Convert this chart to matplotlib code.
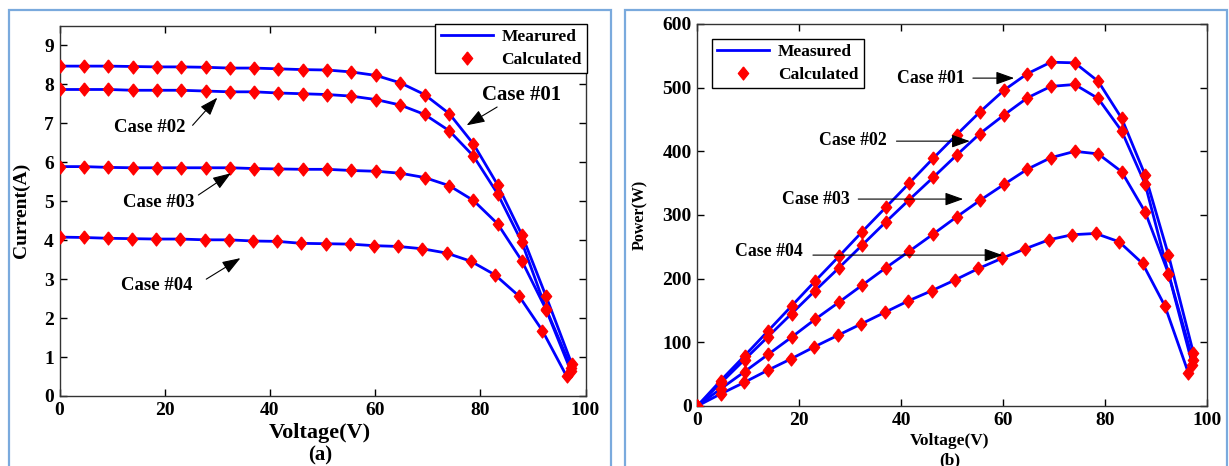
import matplotlib
matplotlib.use("Agg")
import matplotlib.pyplot as plt
from matplotlib.patches import Rectangle

plt.rcParams['font.family'] = ['Liberation Serif', 'DejaVu Serif']
plt.rcParams['font.weight'] = 'bold'

# ---------------- data ----------------
v_common = [0, 4.6, 9.3, 13.9, 18.5, 23.1, 27.8, 32.4, 37.0, 41.6, 46.3,
            50.9, 55.5, 60.2, 64.8, 69.4, 74.1, 78.7, 83.3, 87.9, 92.5]
v_end = [97.4, 97.3, 97.2, 96.4]
v_case4 = [0, 4.6, 9.2, 13.8, 18.4, 23.0, 27.6, 32.2, 36.8, 41.4, 46.0,
           50.6, 55.2, 59.8, 64.4, 69.0, 73.6, 78.2, 82.8, 87.4, 91.8]

i_case1 = [8.47, 8.47, 8.47, 8.46, 8.45, 8.45, 8.44, 8.42, 8.42, 8.40, 8.38,
           8.37, 8.32, 8.23, 8.04, 7.74, 7.25, 6.47, 5.42, 4.14, 2.56, 0.82]
i_case2 = [7.87, 7.87, 7.87, 7.85, 7.85, 7.85, 7.83, 7.81, 7.81, 7.78, 7.76,
           7.74, 7.70, 7.61, 7.47, 7.23, 6.81, 6.16, 5.19, 3.95, 2.24, 0.72]
i_case3 = [5.89, 5.89, 5.87, 5.86, 5.86, 5.86, 5.86, 5.86, 5.84, 5.83, 5.82,
           5.82, 5.79, 5.77, 5.72, 5.61, 5.40, 5.02, 4.42, 3.47, 2.22, 0.65]
i_case4 = [4.08, 4.07, 4.05, 4.04, 4.03, 4.03, 4.01, 4.01, 3.98, 3.97, 3.92,
           3.91, 3.90, 3.86, 3.84, 3.78, 3.67, 3.46, 3.11, 2.56, 1.68, 0.51]

p_case1 = [0, 40, 79, 118, 157, 196, 235, 274, 312, 350, 389,
           426, 462, 496, 522, 540, 539, 510, 452, 363, 237, 83]
p_case2 = [0, 36, 73, 109, 145, 181, 217, 253, 289, 324, 359,
           394, 428, 457, 484, 502, 505, 483, 432, 349, 208, 72]
p_case3 = [0, 27, 54, 81, 108, 136, 163, 190, 217, 243, 270,
           297, 323, 348, 372, 390, 400, 396, 368, 305, 208, 65]
p_case4 = [0, 19, 37, 56, 74, 93, 111, 129, 147, 165, 181,
           198, 216, 232, 247, 261, 269, 271, 258, 224, 157, 52]

case_labels = ['Case #01', 'Case #02', 'Case #03', 'Case #04']
legend_left = ['Mearured', 'Calculated']
legend_right = ['Measured', 'Calculated']

volts = [v_common + [v_end[0]], v_common + [v_end[1]],
         v_common + [v_end[2]], v_case4 + [v_end[3]]]
currents = [i_case1, i_case2, i_case3, i_case4]
powers = [p_case1, p_case2, p_case3, p_case4]

# ---------------- figure ----------------
W, H = 1229, 466
fig = plt.figure(figsize=(W / 100, H / 100), dpi=100)

def fx(px):
    return px / W

def fy(py):
    return 1 - py / H

border = '#7aaadd'
fig.patches.append(Rectangle((fx(9), fy(480)), fx(611 - 9), fy(9.5) - fy(480),
                             transform=fig.transFigure, fill=False,
                             edgecolor=border, lw=1.6, clip_on=False))
fig.patches.append(Rectangle((fx(625), fy(480)), fx(1227 - 625), fy(9.5) - fy(480),
                             transform=fig.transFigure, fill=False,
                             edgecolor=border, lw=1.6, clip_on=False))

ax1 = fig.add_axes([fx(59.5), fy(396), fx(585.5 - 59.5), fy(26) - fy(396)])
ax2 = fig.add_axes([fx(697.3), fy(406), fx(1206.7 - 697.3), fy(24) - fy(406)])

diamond = [(0, 1), (0.8, 0), (0, -1), (-0.8, 0), (0, 1)]
line_kw = dict(color='#0000ff', lw=2.0, zorder=2)
mark_kw = dict(ls='none', marker=diamond, ms=9.5, color='#ff0000',
               mec='#ff0000', mew=0.8, zorder=3)

for v, i in zip(volts, currents):
    ax1.plot(v, i, **line_kw)
    ax1.plot(v, i, **mark_kw)
for v, p in zip(volts, powers):
    ax2.plot(v, p, **line_kw)
    ax2.plot(v, p, **mark_kw)

for ax in (ax1, ax2):
    ax.set_xlim(0, 100)
    ax.set_xticks(range(0, 101, 20))
    ax.tick_params(direction='in', top=True, right=True, length=5,
                   width=1, labelsize=14, pad=4, colors='black')
    for s in ax.spines.values():
        s.set_color('#333333')
        s.set_linewidth(1.0)

ax1.set_ylim(0, 9.5)
ax1.set_yticks(range(0, 10))
ax2.set_ylim(0, 600)
ax2.set_yticks(range(0, 601, 100))
for lab in ax1.get_xticklabels() + ax1.get_yticklabels() + ax2.get_xticklabels() + ax2.get_yticklabels():
    lab.set_fontweight('bold')

# axis labels
fig.text(fx(320), fy(433), 'Voltage(V)', ha='center', va='center', fontsize=16, fontweight='bold')
fig.text(fx(320), fy(455), '(a)', ha='center', va='center', fontsize=15, fontweight='bold')
fig.text(fx(21), fy(210), 'Current(A)', ha='center', va='center', rotation=90, fontsize=14, fontweight='bold')
fig.text(fx(950), fy(441), 'Voltage(V)', ha='center', va='center', fontsize=12.5, fontweight='bold')
fig.text(fx(950), fy(460), '(b)', ha='center', va='center', fontsize=12.5, fontweight='bold')
fig.text(fx(640), fy(215), 'Power(W)', ha='center', va='center', rotation=90, fontsize=11.5, fontweight='bold')

# legends
h_line, = ax1.plot([], [], **line_kw)
h_mark, = ax1.plot([], [], **mark_kw)
leg1 = ax1.legend([h_line, h_mark], legend_left, loc='upper right',
                  bbox_to_anchor=(fx(587), fy(24)), bbox_transform=fig.transFigure,
                  borderaxespad=0, fancybox=False, framealpha=1, edgecolor='black',
                  prop={'size': 12.5, 'weight': 'bold'}, handlelength=3.0,
                  handletextpad=0.5, labelspacing=0.35, borderpad=0.3)
leg1.get_frame().set_linewidth(1.0)
h_line2, = ax2.plot([], [], **line_kw)
h_mark2, = ax2.plot([], [], **mark_kw)
leg2 = ax2.legend([h_line2, h_mark2], legend_right, loc='upper left',
                  bbox_to_anchor=(fx(712), fy(39)), bbox_transform=fig.transFigure,
                  borderaxespad=0, fancybox=False, framealpha=1, edgecolor='black',
                  prop={'size': 12.5, 'weight': 'bold'}, handlelength=3.0,
                  handletextpad=0.5, labelspacing=0.35, borderpad=0.3)
leg2.get_frame().set_linewidth(1.0)

# annotations
arrow = dict(arrowstyle='-|>,head_length=0.7,head_width=0.25', color='black',
             lw=0.8, mutation_scale=16, shrinkA=0, shrinkB=0)
ann1_text = [(87.9, 7.72), (17.1, 6.89), (18.8, 4.97), (18.4, 2.84)]
ann1_tail = [(83.2, 7.42), (25.3, 6.95), (26.4, 5.16), (27.9, 3.0)]
ann1_head = [(77.4, 6.95), (30.0, 7.66), (32.6, 5.72), (34.4, 3.54)]
for lab, t, a, b in zip(case_labels, ann1_text, ann1_tail, ann1_head):
    ax1.text(t[0], t[1], lab, ha='center', va='center', fontsize=15 if lab == 'Case #01' else 13.5,
             fontweight='bold')
    ax1.annotate('', xy=b, xytext=a, arrowprops=arrow)

ann2_text = [(45.8, 515), (30.6, 417), (23.3, 324), (14.1, 243)]
ann2_tail = [(54.1, 515), (39.1, 416), (31.6, 325), (22.7, 237)]
ann2_head = [(62.2, 515), (53.5, 416), (52.2, 325), (59.9, 237)]
for lab, t, a, b in zip(case_labels, ann2_text, ann2_tail, ann2_head):
    ax2.text(t[0], t[1], lab, ha='center', va='center', fontsize=12.8, fontweight='bold')
    ax2.annotate('', xy=b, xytext=a, arrowprops=arrow)

fig.savefig('out.png', dpi=100)
